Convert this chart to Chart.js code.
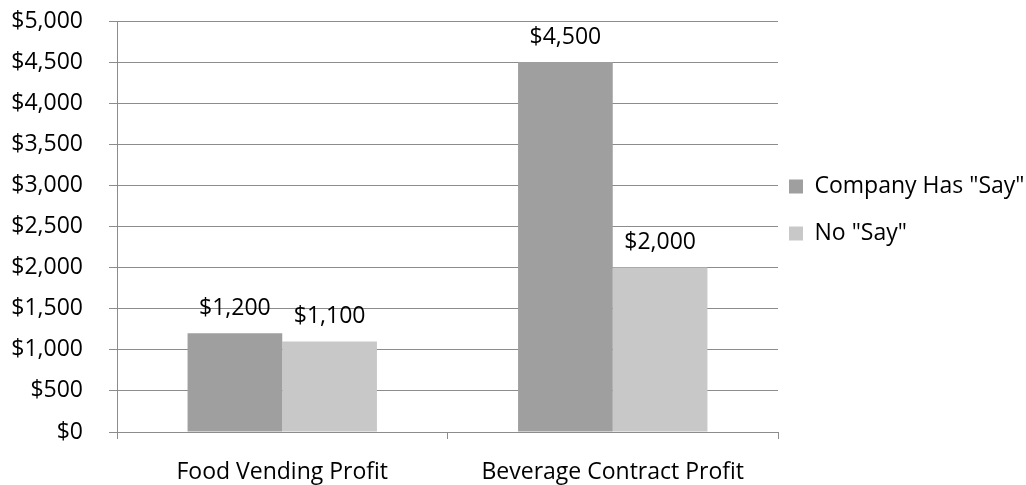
<!DOCTYPE html>
<html>
<head>
<meta charset="utf-8">
<script src="https://cdn.jsdelivr.net/npm/chart.js@4"></script>
<style>
  html, body { margin: 0; padding: 0; background: #fff; }
  #wrap { width: 1026px; height: 485px; }
</style>
</head>
<body>
<div id="wrap"><canvas id="profitChart"></canvas></div>
<script>
// Data
const categories = ['Food Vending Profit', 'Beverage Contract Profit'];
const companySay = [1200, 4500];
const noSay = [1100, 2000];
const seriesNames = ['Company Has "Say"', 'No "Say"'];

const fontFamily = '"Open Sans", sans-serif';
const fontSize = 23;
const gridColor = '#8c8c8c';

function money(v) {
    return '$' + v.toLocaleString('en-US');
}

// draws the value above each bar
const barLabels = {
    id: 'barLabels',
    afterDatasetsDraw(chart) {
        const ctx = chart.ctx;
        ctx.save();
        ctx.font = fontSize + 'px ' + fontFamily;
        ctx.fillStyle = '#000';
        ctx.textAlign = 'center';
        ctx.textBaseline = 'middle';
        chart.data.datasets.forEach((ds, i) => {
            chart.getDatasetMeta(i).data.forEach((bar, j) => {
                ctx.fillText(money(ds.data[j]), bar.x, bar.y - 25);
            });
        });
        ctx.restore();
    }
};

// fixes the legend width so the plot ends where it does in the picture
const legendFit = {
    id: 'legendFit',
    beforeInit(chart) {
        const legend = chart.legend;
        if (!legend) return;
        const origFit = legend.fit.bind(legend);
        legend.fit = function () {
            origFit();
            this.width = 248;
        };
    },
    afterLayout(chart) {
        const legend = chart.legend;
        legend.left -= 13;
        legend.top -= 43;
        legend.bottom -= 43;
    }
};

const ctx = document.getElementById('profitChart').getContext('2d');
new Chart(ctx, {
    type: 'bar',
    data: {
        labels: categories,
        datasets: [
            {
                label: seriesNames[0],
                data: companySay,
                backgroundColor: '#9f9f9f',
                categoryPercentage: 0.573,
                barPercentage: 1.0
            },
            {
                label: seriesNames[1],
                data: noSay,
                backgroundColor: '#c8c8c8',
                categoryPercentage: 0.573,
                barPercentage: 1.0
            }
        ]
    },
    options: {
        responsive: true,
        maintainAspectRatio: false,
        animation: false,
        layout: { padding: { top: 21, right: 0, bottom: 0, left: 0 } },
        plugins: {
            legend: {
                position: 'right',
                labels: {
                    font: { family: fontFamily, size: fontSize },
                    color: '#000',
                    boxWidth: 14,
                    boxHeight: 14,
                    padding: 24
                }
            },
            tooltip: { enabled: false }
        },
        scales: {
            x: {
                afterFit(scale) { scale.height = 53; },
                grid: {
                    offset: true,
                    drawOnChartArea: false,
                    drawTicks: true,
                    tickLength: 7,
                    color: gridColor
                },
                border: { color: gridColor },
                ticks: {
                    font: { family: fontFamily, size: fontSize },
                    color: '#000',
                    padding: 20
                }
            },
            y: {
                min: 0,
                max: 5000,
                afterFit(scale) {
                    scale.width = 117;
                    scale.paddingTop = 0;
                    scale.paddingBottom = 0;
                },
                ticks: {
                    stepSize: 500,
                    font: { family: fontFamily, size: fontSize },
                    color: '#000',
                    padding: 26,
                    callback: v => money(v)
                },
                grid: {
                    color: gridColor,
                    tickLength: 8
                },
                border: { color: gridColor }
            }
        }
    },
    plugins: [barLabels, legendFit]
});
</script>
</body>
</html>
